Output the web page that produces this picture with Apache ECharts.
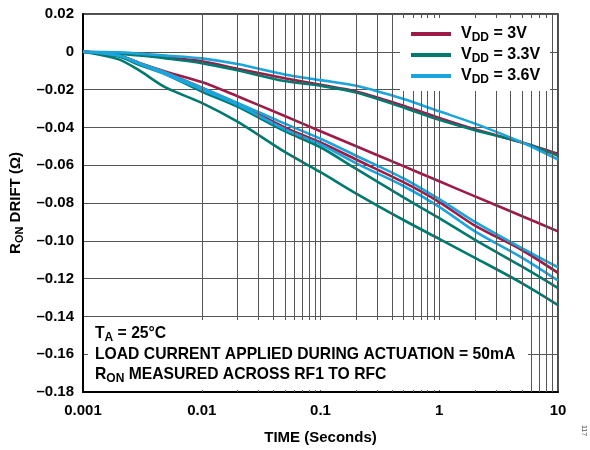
<!DOCTYPE html>
<html>
<head>
<meta charset="utf-8">
<script src="https://cdn.jsdelivr.net/npm/echarts@6/dist/echarts.min.js"></script>
<style>html,body{margin:0;padding:0;background:#fff}#c{width:590px;height:450px}</style>
</head>
<body>
<div id="c"></div>
<script>
// ---- data ----
const timeSec = [0.001, 0.002, 0.003, 0.005, 0.01, 0.02, 0.05, 0.1, 0.2, 0.5, 1, 2, 5, 10];

// VDD = 3V (three units)
const vdd3_a = [0, -0.0008, -0.0015, -0.003, -0.005, -0.009, -0.014, -0.0175, -0.021, -0.0285, -0.035, -0.041, -0.048, -0.054];
const vdd3_b = [0, -0.002, -0.006, -0.0105, -0.016, -0.0235, -0.034, -0.042, -0.05, -0.0605, -0.0685, -0.0765, -0.087, -0.095];
const vdd3_c = [0, -0.002, -0.006, -0.011, -0.019, -0.0275, -0.04, -0.048, -0.057, -0.069, -0.0795, -0.092, -0.105, -0.117];
// VDD = 3.3V
const vdd33_a = [0, -0.001, -0.002, -0.0035, -0.006, -0.0098, -0.0155, -0.018, -0.0215, -0.0295, -0.036, -0.0415, -0.048, -0.055];
const vdd33_b = [0, -0.0025, -0.007, -0.012, -0.021, -0.029, -0.042, -0.0505, -0.062, -0.077, -0.088, -0.0995, -0.1137, -0.125];
const vdd33_c = [0, -0.004, -0.010, -0.019, -0.027, -0.037, -0.053, -0.0637, -0.075, -0.089, -0.099, -0.109, -0.1225, -0.134];
// VDD = 3.6V
const vdd36_a = [0, -0.0003, -0.001, -0.002, -0.0035, -0.0065, -0.012, -0.015, -0.018, -0.025, -0.0315, -0.038, -0.048, -0.057];
const vdd36_b = [0, -0.002, -0.006, -0.011, -0.019, -0.027, -0.038, -0.046, -0.055, -0.067, -0.078, -0.090, -0.104, -0.114];
const vdd36_c = [0, -0.002, -0.0065, -0.012, -0.02, -0.028, -0.041, -0.049, -0.059, -0.071, -0.082, -0.095, -0.109, -0.121];

const seriesNames = ['VDD = 3V', 'VDD = 3.3V', 'VDD = 3.6V'];
const legendLabels = ['{v|V}{s|DD}{v| = 3V}', '{v|V}{s|DD}{v| = 3.3V}', '{v|V}{s|DD}{v| = 3.6V}'];
const xTickLabels = ['0.001', '0.01', '0.1', '1', '10'];
const yMin = -0.18, yMax = 0.02, yStep = 0.02;

const COLORS = ['#9E1B47', '#00796F', '#1BA5DC'];
const FONT = '"Liberation Sans", Arial, sans-serif';

// minor log grid positions (2..9 per decade)
const minorGrid = [];
for (let k = -3; k <= 0; k++) {
  for (let m = 2; m <= 9; m++) minorGrid.push(Number((m * Math.pow(10, k)).toPrecision(3)));
}

function pairs(vals) { return timeSec.map((t, i) => [t, vals[i]]); }

const groups = [
  [0, [vdd3_a, vdd3_b, vdd3_c]],
  [1, [vdd33_a, vdd33_b, vdd33_c]],
  [2, [vdd36_a, vdd36_b, vdd36_c]]
];

const series = [{
  type: 'line', name: 'grid', data: [], z: 1, silent: true,
  markLine: {
    silent: true, symbol: 'none', label: { show: false },
    lineStyle: { color: '#555', width: 1, type: 'solid' },
    emphasis: { disabled: true },
    animation: false,
    data: minorGrid.map(v => ({ xAxis: v }))
  }
}];
groups.forEach(([ci, arrs]) => {
  arrs.forEach(a => series.push({
    type: 'line', name: seriesNames[ci], data: pairs(a), showSymbol: false, smooth: 0.3,
    color: COLORS[ci], lineStyle: { width: 2.6, color: COLORS[ci] }, z: 2
  }));
});

const richBase = {
  v: { fontFamily: FONT, fontWeight: 'bold', fontSize: 16, color: '#000' },
  s: { fontFamily: FONT, fontWeight: 'bold', fontSize: 12, color: '#000', verticalAlign: 'bottom', padding: [8, 0, 0, 0] }
};
const richNote = {
  v: { fontFamily: FONT, fontWeight: 'bold', fontSize: 15.7, color: '#000' },
  s: { fontFamily: FONT, fontWeight: 'bold', fontSize: 12, color: '#000', verticalAlign: 'bottom', padding: [8, 0, 0, 0] }
};

const chart = echarts.init(document.getElementById('c'), null, { renderer: 'canvas' });
chart.setOption({
  animation: false,
  backgroundColor: '#fff',
  grid: { left: 83, right: 32, top: 14, bottom: 57, show: true, borderColor: '#111', borderWidth: 1.5, backgroundColor: 'transparent' },
  xAxis: {
    type: 'log', logBase: 10, min: 0.001, max: 10,
    name: 'TIME (Seconds)', nameLocation: 'middle', nameGap: 38,
    nameTextStyle: { fontFamily: FONT, fontWeight: 'bold', fontSize: 15, color: '#000' },
    axisLine: { show: true, onZero: false, lineStyle: { color: '#000', width: 2 } },
    axisTick: { show: false },
    axisLabel: {
      margin: 11, fontFamily: FONT, fontWeight: 'bold', fontSize: 15, color: '#000',
      formatter: v => { const s = Number(v.toPrecision(3)).toString(); return xTickLabels.includes(s) ? s : ''; }
    },
    splitLine: { show: true, lineStyle: { color: '#555', width: 1 } }
  },
  yAxis: {
    type: 'value', min: yMin, max: yMax, interval: yStep,
    name: '{v|R}{s|ON}{v| DRIFT (Ω)}', nameLocation: 'middle', nameGap: 58, nameRotate: 90,
    nameTextStyle: { rich: { v: { fontFamily: FONT, fontWeight: 'bold', fontSize: 15, color: '#000' }, s: { fontFamily: FONT, fontWeight: 'bold', fontSize: 11, color: '#000', verticalAlign: 'bottom', padding: [7, 0, 0, 0] } } },
    axisLine: { show: true, onZero: false, lineStyle: { color: '#000', width: 2 } },
    axisTick: { show: false },
    axisLabel: {
      margin: 9, fontFamily: FONT, fontWeight: 'bold', fontSize: 15, color: '#000',
      formatter: v => { const r = Math.round(v * 100) / 100; if (r === 0) return '0'; return r.toFixed(2).replace('-', '\u2013'); }
    },
    splitLine: { show: true, lineStyle: { color: '#555', width: 1 } }
  },
  legend: {
    data: seriesNames, orient: 'vertical', left: 406, top: 21,
    icon: 'rect', itemWidth: 40, itemHeight: 4, itemGap: 3,
    formatter: name => legendLabels[seriesNames.indexOf(name)],
    textStyle: { padding: [0, 0, 0, 5], rich: richBase },
    selectedMode: false, zlevel: 1, z: 5
  },
  graphic: [
    { type: 'rect', left: 400, top: 18, shape: { width: 150, height: 73 }, style: { fill: '#fff' }, zlevel: 1, z: 1, silent: true },
    { type: 'rect', left: 88, top: 320, shape: { width: 440, height: 70 }, style: { fill: '#fff' }, zlevel: 1, z: 1, silent: true },
    { type: 'text', left: 95, top: 326, zlevel: 1, z: 5, silent: true,
      style: { text: '{v|T}{s|A}{v| = 25°C}', rich: richNote } },
    { type: 'text', left: 95, top: 347, zlevel: 1, z: 5, silent: true,
      style: { text: '{v|LOAD CURRENT APPLIED DURING ACTUATION = 50mA}', rich: richNote } },
    { type: 'text', left: 95, top: 367, zlevel: 1, z: 5, silent: true,
      style: { text: '{v|R}{s|ON}{v| MEASURED ACROSS RF1 TO RFC}', rich: richNote } },
    { type: 'text', left: 580, top: 425, rotation: -Math.PI / 2, zlevel: 1, z: 5, silent: true,
      style: { text: '117', fontSize: 7, fill: '#555', fontFamily: FONT } }
  ],
  series: series
});
</script>
</body>
</html>
